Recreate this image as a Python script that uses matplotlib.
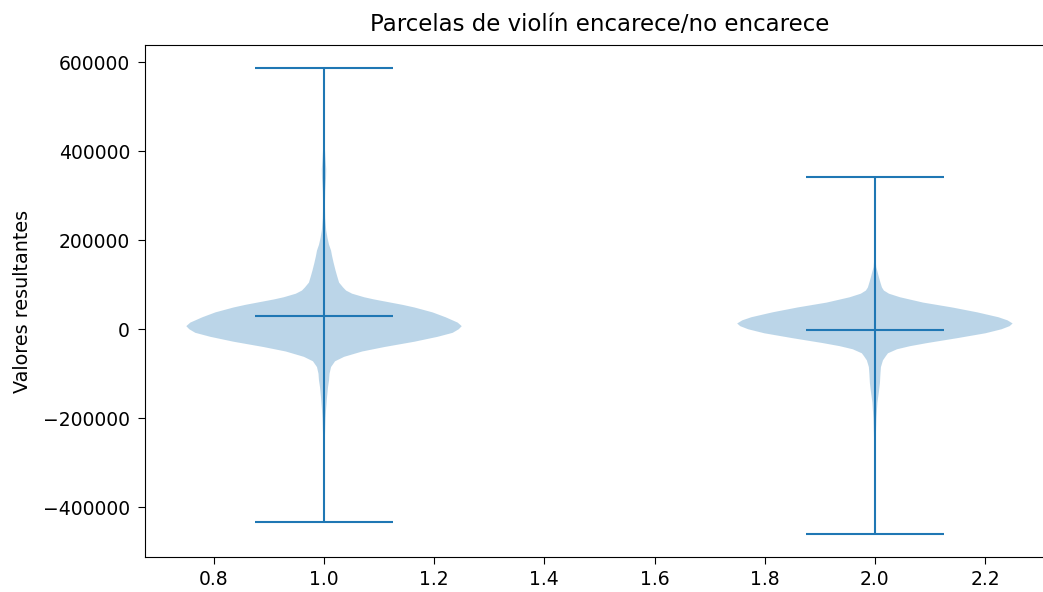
import numpy as np
import matplotlib
matplotlib.use("Agg")
import matplotlib.pyplot as plt

title = "Parcelas de violín encarece/no encarece"
ylabel = "Valores resultantes"
positions = [1, 2]

# Violin 1 ("encarece"): summary statistics and relative density profile
v1_min, v1_max, v1_mean, v1_median = -434000, 587000, 29000, 10000
v1_coords = [-434000, -350000, -250000, -200000, -182000, -153000, -130000, -115000,
             -100000, -85000, -72000, -62000, -50000, -40000, -28000, -17000, -8000,
             0, 7000, 15000, 27000, 38000, 49000, 55000, 61000, 67000, 72000, 80000,
             87000, 94000, 105000, 120000, 132000, 150000, 165000, 177000, 190000,
             205000, 222000, 250000, 280000, 310000, 340000, 360000, 380000, 410000,
             450000, 500000, 550000, 587000]
v1_density = [0.0, 0.3, 0.8, 1.5, 2.0, 3.0, 4.0, 5.0,
              5.5, 7.0, 11.0, 20.0, 38.0, 60.0, 90.0, 113.0, 128.0,
              134.0, 137.0, 133.0, 121.0, 108.0, 90.0, 78.0, 64.0, 50.0, 40.0, 28.0,
              22.0, 19.0, 15.0, 13.0, 11.5, 9.5, 8.0, 7.0, 5.0,
              3.5, 2.2, 1.2, 0.9, 1.2, 2.0, 2.2, 1.6, 0.8,
              0.5, 0.5, 0.6, 0.0]

# Violin 2 ("no encarece")
v2_min, v2_max, v2_mean, v2_median = -460000, 343000, -2000, 10000
v2_coords = [-460000, -350000, -250000, -200000, -165000, -140000, -121000, -100000,
             -85000, -70000, -60000, -54000, -45000, -38000, -31000, -20000, -9000,
             0, 7000, 13000, 20000, 27000, 38000, 49000, 60000, 72000, 80000, 87000,
             94000, 105000, 117000, 130000, 140000, 160000, 200000, 280000, 343000]
v2_density = [0.0, 0.3, 0.8, 1.5, 2.5, 4.0, 5.0, 5.5,
              6.0, 8.0, 11.0, 13.0, 22.0, 35.0, 52.0, 82.0, 110.0,
              126.0, 134.0, 137.0, 132.0, 123.0, 102.0, 77.0, 48.0, 25.0, 14.0, 9.0,
              7.0, 5.5, 4.0, 2.5, 1.3, 0.6, 0.3, 0.2, 0.0]

vpstats = [
    dict(coords=np.array(v1_coords, float), vals=np.array(v1_density, float),
         mean=v1_mean, median=v1_median, min=v1_min, max=v1_max),
    dict(coords=np.array(v2_coords, float), vals=np.array(v2_density, float),
         mean=v2_mean, median=v2_median, min=v2_min, max=v2_max),
]

fig = plt.figure(figsize=(10.43, 5.92), dpi=100)
ax = fig.add_axes([0.139, 0.059, 0.8715, 0.865])
ax.violin(vpstats, positions=positions, widths=0.5, showmeans=True, showextrema=True)
ax.set_title(title, fontsize=16.5, pad=10)
ax.set_ylabel(ylabel, fontsize=13.8, labelpad=8)
ax.tick_params(axis="y", labelsize=13.5, length=4.8, pad=6)
ax.tick_params(axis="x", labelsize=13.5, length=4.8, pad=4.5)
fig.savefig("out.png", dpi=100)
